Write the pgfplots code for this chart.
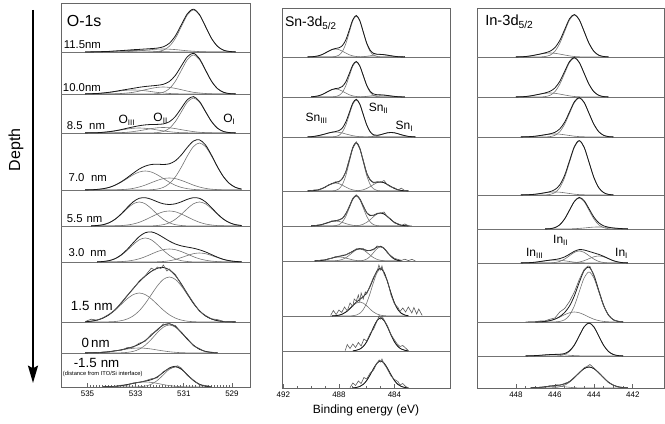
\documentclass[border=0pt]{standalone}
\usepackage{fontspec}
\setmainfont{Liberation Sans}
\usepackage{pgfplots}
\pgfplotsset{compat=1.18}
\usepackage{pgfplotstable}
\usetikzlibrary{arrows.meta}

\pgfplotsset{
  panel/.style={
    scale only axis, anchor=south west, x dir=reverse,
    axis line style={draw=black!60, line width=0.6pt},
    ytick=\empty, xtick pos=bottom, tick align=inside,
    major tick length=3pt, minor tick length=1.6pt,
    tick style={black!60, line width=0.5pt},
    tick label style={font=\fontsize{6}{7}\selectfont},
    /pgf/number format/assume math mode=true,
    xticklabel style={yshift=0.5pt},
  },
  comp/.style={black!55, line width=0.45pt, smooth},
  env/.style={black!90, line width=0.6pt, smooth},
  dat/.style={black!65, line width=0.45pt},
  sepl/.style={black!55, line width=0.6pt},
}
\tikzset{
  lab/.style={anchor=base west, inner sep=0pt, font=\fontsize{8.5}{10}\selectfont},
  labb/.style={anchor=base west, inner sep=0pt, font=\fontsize{10}{12}\selectfont},
  pk/.style={anchor=base west, inner sep=0pt, font=\fontsize{9}{11}\selectfont},
}
\newcommand\strip[2]{%
  \addplot[comp] table[x=x,y expr=\thisrow{a}+#2]{#1};
  \addplot[comp] table[x=x,y expr=\thisrow{b}+#2]{#1};
  \addplot[comp] table[x=x,y expr=\thisrow{c}+#2]{#1};
  \addplot[env] table[x=x,y expr=\thisrow{e}+#2]{#1};}
\newcommand\data[2]{\addplot[dat] table[x=x,y expr=\thisrow{d}+#2]{#1};}

% ---------- O-1s ----------
\pgfplotstableread{
x a b c e
528.85 0.1 0 0 0.1
529.1 0.5 0 0 0.5
529.35 1.8 0 0 1.8
529.6 5.7 0 0 5.7
529.85 13.6 0.1 0 13.7
530.1 25.5 0.2 0 25.7
530.35 37.1 0.4 0 37.5
530.6 42.0 0.8 0 42.8
530.85 37.1 1.2 0 38.3
531.1 25.5 1.8 0 27.3
531.35 13.6 2.4 0.1 16.1
531.6 5.7 2.8 0.2 8.7
531.85 1.8 3.0 0.4 5.2
532.1 0.5 2.8 0.6 3.9
532.35 0.1 2.4 0.9 3.4
532.6 0 1.8 1.2 3.0
532.85 0 1.2 1.4 2.6
533.1 0 0.8 1.5 2.3
533.35 0 0.4 1.4 1.8
533.6 0 0.2 1.2 1.4
533.85 0 0.1 0.9 1.0
534.1 0 0 0.6 0.6
534.35 0 0 0.4 0.4
534.6 0 0 0.2 0.2
534.85 0 0 0.1 0.1
535.1 0 0 0 0
}\Oa
\pgfplotstableread{
x a b c e
528.85 0.1 0 0 0.1
529.1 0.4 0 0 0.4
529.35 1.7 0 0 1.7
529.6 5.3 0.1 0 5.4
529.85 12.7 0.2 0 12.9
530.1 23.7 0.5 0 24.1
530.35 34.4 1.0 0 35.4
530.6 39.0 1.7 0 40.7
530.85 34.4 2.9 0 37.3
531.1 23.7 4.3 0.1 28.1
531.35 12.7 5.6 0.3 18.6
531.6 5.3 6.6 0.5 12.5
531.85 1.7 7.0 1.0 9.7
532.1 0.4 6.6 1.6 8.7
532.35 0.1 5.6 2.4 8.1
532.6 0 4.3 3.2 7.5
532.85 0 2.9 3.8 6.7
533.1 0 1.7 4.0 5.7
533.35 0 1.0 3.8 4.7
533.6 0 0.5 3.2 3.7
533.85 0 0.2 2.4 2.6
534.1 0 0.1 1.6 1.7
534.35 0 0 1.0 1.0
534.6 0 0 0.5 0.5
534.85 0 0 0.3 0.3
535.1 0 0 0.1 0.1
}\Ob
\pgfplotstableread{
x a b c e
528.85 0.1 0 0 0.1
529.1 0.4 0 0 0.4
529.35 1.5 0 0 1.5
529.6 4.7 0.1 0 4.8
529.85 11.4 0.2 0 11.6
530.1 21.2 0.4 0 21.6
530.35 30.9 0.7 0 31.7
530.6 35.0 1.4 0.1 36.4
530.85 30.9 2.3 0.2 33.3
531.1 21.2 3.3 0.3 24.9
531.35 11.4 4.4 0.7 16.5
531.6 4.7 5.2 1.3 11.2
531.85 1.5 5.5 2.1 9.1
532.1 0.4 5.2 3.0 8.6
532.35 0.1 4.4 4.0 8.5
532.6 0 3.3 4.7 8.1
532.85 0 2.3 5.0 7.3
533.1 0 1.4 4.7 6.1
533.35 0 0.7 4.0 4.8
533.6 0 0.4 3.0 3.4
533.85 0 0.2 2.1 2.2
534.1 0 0.1 1.3 1.3
534.35 0 0 0.7 0.7
534.6 0 0 0.3 0.3
534.85 0 0 0.2 0.2
535.1 0 0 0.1 0.1
}\Oc
\pgfplotstableread{
x a b c e
528.6 0.9 0 0 0.9
528.85 2.6 0 0 2.6
529.1 6.4 0.1 0 6.4
529.35 13.1 0.1 0 13.2
529.6 22.9 0.4 0 23.2
529.85 34.1 0.8 0 34.9
530.1 43.4 1.6 0.1 45.1
530.35 47.0 3.0 0.2 50.2
530.6 43.4 4.9 0.6 48.9
530.85 34.1 7.3 1.3 42.7
531.1 22.9 9.6 2.6 35.1
531.35 13.1 11.4 4.7 29.2
531.6 6.4 12.0 7.8 26.2
531.85 2.6 11.4 11.5 25.5
532.1 0.9 9.6 15.2 25.8
532.35 0.3 7.3 18.0 25.5
532.6 0 4.9 19.0 23.9
532.85 0 3.0 18.0 21.0
533.1 0 1.6 15.2 16.8
533.35 0 0.8 11.5 12.3
533.6 0 0.4 7.8 8.2
533.85 0 0.1 4.7 4.9
534.1 0 0.1 2.6 2.6
534.35 0 0 1.3 1.3
534.6 0 0 0.6 0.6
534.85 0 0 0.2 0.2
535.1 0 0 0.1 0.1
}\Od
\pgfplotstableread{
x a b c e
528.6 0.5 0 0 0.5
528.85 1.3 0 0 1.3
529.1 3.2 0.1 0 3.3
529.35 6.7 0.2 0 6.8
529.6 11.7 0.4 0 12.1
529.85 17.4 1.0 0 18.4
530.1 22.2 2.0 0 24.2
530.35 24.0 3.7 0 27.7
530.6 22.2 6.2 0 28.3
530.85 17.4 9.1 0.1 26.7
531.1 11.7 12.0 0.5 24.2
531.35 6.7 14.2 1.3 22.2
531.6 3.2 15.0 3.2 21.5
531.85 1.3 14.2 6.7 22.2
532.1 0.5 12.0 11.7 24.2
532.35 0.1 9.1 17.4 26.7
532.6 0 6.2 22.2 28.3
532.85 0 3.7 24.0 27.7
533.1 0 2.0 22.2 24.2
533.35 0 1.0 17.4 18.4
533.6 0 0.4 11.7 12.1
533.85 0 0.2 6.7 6.8
534.1 0 0.1 3.2 3.3
534.35 0 0 1.3 1.3
534.6 0 0 0.5 0.5
534.85 0 0 0.1 0.1
}\Oe
\pgfplotstableread{
x a b c e
528.6 0.2 0 0 0.2
528.85 0.5 0 0 0.5
529.1 1.2 0.05 0 1.3
529.35 2.5 0.1 0 2.6
529.6 4.4 0.4 0 4.8
529.85 6.5 0.9 0 7.4
530.1 8.3 1.8 0 10.1
530.35 9.0 3.2 0 12.2
530.6 8.3 5.3 0.1 13.8
530.85 6.5 7.9 0.5 14.9
531.1 4.4 10.4 1.3 16.1
531.35 2.5 12.3 3.2 18.0
531.6 1.2 13.0 6.7 20.9
531.85 0.5 12.3 11.7 24.5
532.1 0.2 10.4 17.4 28.0
532.35 0.05 7.9 22.2 30.1
532.6 0 5.3 24.0 29.3
532.85 0 3.2 22.2 25.4
533.1 0 1.8 17.4 19.2
533.35 0 0.9 11.7 12.6
533.6 0 0.4 6.7 7.1
533.85 0 0.1 3.2 3.4
534.1 0 0.05 1.3 1.4
534.35 0 0 0.5 0.5
534.6 0 0 0.1 0.1
}\Of
\pgfplotstableread{
x a b c e
528.85 0 0.05 0 0.1
529.1 0 0.2 0 0.2
529.35 0 0.5 0 0.5
529.6 0 1.3 0 1.3
529.85 0 3.0 0 3.0
530.1 0 6.1 0.03 6.1
530.35 0 11.2 0.1 11.3
530.6 0 18.5 0.3 18.8
530.85 0 27.3 0.8 28.2
531.1 0 36.0 1.9 38.0
531.35 0 42.6 3.9 46.5
531.6 0 45.0 7.2 52.2
531.85 0 42.6 11.9 54.5
532.1 0 36.0 17.6 53.7
532.35 0 27.3 23.2 50.6
532.6 0 18.5 27.4 45.9
532.85 0 11.2 29.0 40.2
533.1 0 6.1 27.4 33.5
533.35 0 3.0 23.2 26.2
533.6 0 1.3 17.6 18.9
533.85 0 0.5 11.9 12.4
534.1 0 0.2 7.2 7.4
534.35 0 0.05 3.9 4.0
534.6 0 0 1.9 1.9
534.85 0 0 0.8 0.8
535.1 0 0 0.3 0.3
}\Og
\pgfplotstableread{
x d
528.85 0.1
529.1 0.3
529.35 0.6
529.6 2.4
529.85 3.2
530.1 6.6
530.35 10.8
530.6 19.4
530.85 28.4
531.1 37.2
531.35 47.5
531.5 50.5
531.6 53.0
531.7 51.0
531.85 57.0
531.95 53.5
532.1 55.0
532.2 52.0
532.35 53.8
532.6 46.4
532.85 41.0
533.1 33.0
533.35 26.6
533.6 19.4
533.85 12.0
534.1 7.8
534.35 4.3
534.6 1.8
534.85 2.8
535.1 0.4
}\Ogd
\pgfplotstableread{
x a b c e
529.6 0 0.2 0 0.2
529.85 0 0.6 0 0.6
530.1 0 1.6 0 1.6
530.35 0 3.8 0 3.8
530.6 0 7.8 0.1 7.8
530.85 0 13.6 0.15 13.8
531.1 0 20.3 0.3 20.7
531.35 0 25.8 0.7 26.5
531.6 0 28.0 1.25 29.3
531.85 0 25.8 2.1 27.9
532.1 0 20.3 3.0 23.4
532.35 0 13.6 4.0 17.7
532.6 0 7.8 4.7 12.5
532.85 0 3.8 5.0 8.8
533.1 0 1.6 4.7 6.3
533.35 0 0.6 4.0 4.6
533.6 0 0.2 3.0 3.2
533.85 0 0 2.1 2.1
534.1 0 0 1.25 1.3
534.35 0 0 0.7 0.7
534.6 0 0 0.3 0.3
534.85 0 0 0.15 0.2
535.1 0 0 0.06 0.1
}\Oh
\pgfplotstableread{
x d
529.6 0.2
529.85 0.8
530.1 1.2
530.35 4.4
530.6 7.2
530.85 14.5
531.1 20.0
531.35 27.5
531.5 28.2
531.6 29.5
531.75 28.0
531.85 29.0
532.1 22.6
532.35 18.8
532.6 11.8
532.85 9.8
533.1 5.8
533.35 5.4
533.6 2.6
533.85 2.6
534.1 1.0
534.35 1.0
534.6 0.2
}\Ohd
\pgfplotstableread{
x a b c e
529.85 0 0.2 0 0.2
530.1 0 0.9 0 0.9
530.35 0 2.7 0 2.7
530.6 0 6.5 0 6.5
530.85 0 12.1 0.1 12.2
531.1 0 17.7 0.3 17.9
531.35 0 20.0 0.7 20.7
531.6 0 17.7 1.4 19.0
531.85 0 12.1 2.4 14.6
532.1 0 6.5 3.6 10.1
532.35 0 2.7 4.6 7.3
532.6 0 0.9 5.0 5.9
532.85 0 0.2 4.6 4.8
533.1 0 0 3.6 3.7
533.35 0 0 2.4 2.4
533.6 0 0 1.4 1.4
533.85 0 0 0.7 0.7
534.1 0 0 0.3 0.3
534.35 0 0 0.1 0.1
}\Oi
\pgfplotstableread{
x d
529.85 0.3
530.1 1.5
530.35 2.2
530.6 7.0
530.85 11.4
531.1 18.8
531.25 21.2
531.35 20.4
531.6 18.4
531.85 15.4
532.1 9.2
532.35 8.2
532.6 6.2
532.85 4.6
533.1 4.0
533.35 1.8
533.6 1.8
533.85 0.5
534.1 0.3
}\Oid

% ---------- Sn-3d ----------
\pgfplotstableread{
x a b c e
483.25 0.05 0 0 0.1
483.5 0.1 0 0 0.1
483.75 0.3 0 0 0.3
484 0.7 0 0 0.7
484.25 1.2 0 0 1.2
484.5 1.8 0 0 1.8
484.75 2.3 0 0 2.3
485 2.5 0.1 0 2.6
485.25 2.3 0.5 0 2.8
485.5 1.8 1.8 0 3.6
485.75 1.2 5.6 0 6.8
486 0.7 13.3 0 14.0
486.25 0.3 24.9 0.05 25.3
486.5 0.1 36.2 0.2 36.5
486.75 0.05 41.0 0.5 41.5
487 0 36.2 1.1 37.3
487.25 0 24.9 2.2 27.1
487.5 0 13.3 3.9 17.2
487.75 0 5.6 5.8 11.4
488 0 1.8 7.4 9.2
488.25 0 0.5 8.0 8.5
488.5 0 0.1 7.4 7.5
488.75 0 0 5.8 5.8
489 0 0 3.9 3.9
489.25 0 0 2.2 2.2
489.5 0 0 1.1 1.1
489.75 0 0 0.5 0.5
490 0 0 0.2 0.2
490.25 0 0 0.05 0.1
}\Sa
\pgfplotstableread{
x a b c e
483.25 0 0 0 0
483.5 0.1 0 0 0.1
483.75 0.3 0 0 0.3
484 0.6 0 0 0.6
484.25 1.0 0 0 1.0
484.5 1.5 0 0 1.5
484.75 1.9 0 0 1.9
485 2.0 0.1 0 2.1
485.25 1.9 0.4 0 2.2
485.5 1.5 1.5 0 3.0
485.75 1.0 4.7 0 5.7
486 0.6 11.4 0 11.9
486.25 0.3 21.2 0.05 21.6
486.5 0.1 30.9 0.2 31.2
486.75 0 35.0 0.5 35.5
487 0 30.9 1.1 32.0
487.25 0 21.2 2.2 23.5
487.5 0 11.4 3.9 15.3
487.75 0 4.7 5.8 10.6
488 0 1.5 7.4 8.9
488.25 0 0.4 8.0 8.4
488.5 0 0.1 7.4 7.5
488.75 0 0 5.8 5.8
489 0 0 3.9 3.9
489.25 0 0 2.2 2.2
489.5 0 0 1.1 1.1
489.75 0 0 0.5 0.5
490 0 0 0.2 0.2
}\Sb
\pgfplotstableread{
x a b c e
482.5 0.1 0 0 0.1
482.75 0.3 0 0 0.3
483 0.6 0 0 0.6
483.25 1.3 0 0 1.3
483.5 2.2 0 0 2.2
483.75 3.3 0 0 3.3
484 4.2 0 0 4.2
484.25 4.5 0 0 4.5
484.5 4.2 0 0 4.2
484.75 3.3 0 0 3.3
485 2.2 0.1 0 2.3
485.25 1.3 0.4 0 1.7
485.5 0.6 1.6 0 2.2
485.75 0.3 5.0 0 5.3
486 0.1 12.0 0.1 12.2
486.25 0 22.4 0.2 22.6
486.5 0 32.7 0.3 33.0
486.75 0 37.0 0.7 37.7
487 0 32.7 1.3 33.9
487.25 0 22.4 2.1 24.5
487.5 0 12.0 3.0 15.1
487.75 0 5.0 4.0 9.0
488 0 1.6 4.7 6.4
488.25 0 0.4 5.0 5.4
488.5 0 0.1 4.7 4.8
488.75 0 0 4.0 4.0
489 0 0 3.0 3.0
489.25 0 0 2.1 2.1
489.5 0 0 1.3 1.3
489.75 0 0 0.7 0.7
490 0 0 0.3 0.3
490.25 0 0 0.15 0.2
}\Sc
\pgfplotstableread{
x a b c e
483 0.05 0 0 0.1
483.25 0.2 0 0 0.2
483.5 0.5 0 0 0.5
483.75 1.2 0 0 1.2
484 2.5 0 0 2.5
484.25 4.4 0 0 4.4
484.5 6.5 0 0 6.5
484.75 8.3 0 0 8.3
485 9.0 0.1 0 9.1
485.25 8.3 0.5 0 8.8
485.5 6.5 2.1 0 8.6
485.75 4.4 6.5 0 10.9
486 2.5 15.6 0 18.1
486.25 1.2 29.1 0.05 30.4
486.5 0.5 42.4 0.2 43.0
486.75 0.2 48.0 0.5 48.6
487 0.05 42.4 1.1 43.5
487.25 0 29.1 2.2 31.3
487.5 0 15.6 3.9 19.5
487.75 0 6.5 5.8 12.3
488 0 2.1 7.4 9.5
488.25 0 0.5 8.0 8.5
488.5 0 0.1 7.4 7.5
488.75 0 0 5.8 5.8
489 0 0 3.9 3.9
489.25 0 0 2.2 2.2
489.5 0 0 1.1 1.1
489.75 0 0 0.5 0.5
490 0 0 0.2 0.2
490.25 0 0 0.05 0.1
}\Sd
\pgfplotstableread{
x d
483 0
483.25 0.3
483.5 2.8
483.75 1.0
484 3.2
484.25 4.0
484.5 6.0
484.75 10.5
485 8.6
485.25 9.4
485.5 8.0
485.75 11.5
486 17.6
486.25 31.0
486.5 42.4
486.75 49.2
487 43.0
487.25 31.8
487.5 19.0
487.75 12.8
488 9.0
488.25 9.2
488.5 7.0
488.75 6.2
489 3.4
489.25 2.6
489.5 0.8
489.75 1.2
490 0.2
}\Sdd
\pgfplotstableread{
x a b c e
483 0.1 0 0 0.1
483.25 0.3 0 0 0.3
483.5 0.7 0 0 0.7
483.75 1.8 0 0 1.8
484 3.6 0 0 3.6
484.25 6.3 0 0 6.3
484.5 9.4 0 0 9.4
484.75 12.0 0 0 12.0
485 13.0 0.1 0 13.1
485.25 12.0 0.3 0 12.3
485.5 9.4 1.3 0 10.8
485.75 6.3 4.1 0 10.4
486 3.6 9.7 0 13.4
486.25 1.8 18.2 0.05 20.0
486.5 0.7 26.5 0.1 27.3
486.75 0.3 30.0 0.3 30.5
487 0.1 26.5 0.7 27.2
487.25 0 18.2 1.4 19.6
487.5 0 9.7 2.4 12.2
487.75 0 4.1 3.6 7.7
488 0 1.3 4.6 5.9
488.25 0 0.3 5.0 5.3
488.5 0 0.1 4.6 4.7
488.75 0 0 3.6 3.6
489 0 0 2.4 2.4
489.25 0 0 1.4 1.4
489.5 0 0 0.7 0.7
489.75 0 0 0.3 0.3
490 0 0 0.1 0.1
}\Se
\pgfplotstableread{
x d
482.75 0.1
483 0.3
483.25 2.0
483.5 0.6
483.75 2.4
484 3.0
484.25 6.8
484.5 9.0
484.75 14.0
485 12.6
485.25 12.8
485.5 10.2
485.75 11.0
486 13.0
486.25 20.6
486.5 27.0
486.75 31.2
487 27.8
487.25 19.0
487.5 12.6
487.75 7.3
488 6.4
488.25 4.8
488.5 5.2
488.75 3.2
489 2.8
489.25 1.0
489.5 1.1
489.75 0.2
}\Sed
\pgfplotstableread{
x a b c e
483.5 0.2 0 0 0.2
483.75 0.6 0 0 0.6
484 1.9 0 0 1.9
484.25 4.6 0 0 4.6
484.5 8.5 0.1 0 8.6
484.75 12.4 0.2 0 12.6
485 14.0 0.7 0 14.7
485.25 12.4 1.6 0 14.0
485.5 8.5 3.3 0 11.8
485.75 4.6 5.8 0 10.4
486 1.9 8.7 0 10.6
486.25 0.6 11.1 0.1 11.8
486.5 0.2 12.0 0.2 12.4
486.75 0 11.1 0.5 11.7
487 0 8.7 1.1 9.8
487.25 0 5.8 2.0 7.8
487.5 0 3.3 2.9 6.2
487.75 0 1.6 3.7 5.3
488 0 0.7 4.0 4.7
488.25 0 0.2 3.7 3.9
488.5 0 0.1 2.9 3.0
488.75 0 0 2.0 2.0
489 0 0 1.1 1.1
489.25 0 0 0.5 0.5
489.5 0 0 0.2 0.2
489.75 0 0 0.1 0.1
}\Sf
\pgfplotstableread{
x d
482.5 0.2
482.75 1.6
483 0.4
483.25 1.8
483.5 0.6
483.75 1.6
484 2.6
484.25 5.2
484.5 8.0
484.75 13.0
485 14.2
485.25 15.0
485.5 11.2
485.75 10.8
486 10.0
486.25 12.4
486.5 12.0
486.75 12.2
487 9.2
487.25 8.2
487.5 6.0
487.75 5.8
488 4.2
488.25 4.4
488.5 2.6
488.75 2.4
489 0.8
489.25 1.2
489.5 0.2
}\Sfd
\pgfplotstableread{
x a b c e
483 0.3 0 0 0.3
483.25 0.9 0 0 0.9
483.5 2.6 0 0 2.6
483.75 6.4 0 0 6.4
484 13.1 0 0 13.1
484.25 22.9 0 0 22.9
484.5 34.1 0.1 0 34.2
484.75 43.4 0.3 0 43.7
485 47.0 0.8 0 47.8
485.25 43.4 1.9 0 45.3
485.5 34.1 3.9 0 38.0
485.75 22.9 6.8 0 29.7
486 13.1 10.2 0 23.2
486.25 6.4 12.9 0 19.3
486.5 2.6 14.0 0 16.6
486.75 0.9 12.9 0 13.9
487 0.3 10.2 0 10.4
487.25 0 6.8 0 6.8
487.5 0 3.9 0 3.9
487.75 0 1.9 0 1.9
488 0 0.8 0 0.8
488.25 0 0.3 0 0.3
488.5 0 0.1 0 0.1
}\Sg
\pgfplotstableread{
x d
482.0 0.5
482.25 7
482.4 2
482.6 8.5
482.75 3
483.0 9
483.2 4
483.4 8
483.6 4.5
483.75 8.5
484.0 12
484.25 21
484.5 35
484.75 42
484.9 50
485.0 46
485.12 51
485.25 44.5
485.5 39
485.75 30.5
486.0 22
486.1 24
486.25 17
486.4 23
486.5 14.5
486.6 21
486.75 15
486.9 17
487.0 9.5
487.2 13
487.4 5
487.6 9
487.8 3.5
488.0 6
488.2 1.5
488.4 5.5
488.6 0.5
}\Sgd
\pgfplotstableread{
x a b c e
483 0.2 0 0 0.2
483.25 0.7 0 0 0.7
483.5 1.9 0 0 1.9
483.75 4.5 0 0 4.5
484 9.2 0 0 9.2
484.25 16.1 0 0 16.1
484.5 24.0 0 0 24.0
484.75 30.5 0 0 30.5
485 33.0 0 0 33.0
485.25 30.5 0 0 30.5
485.5 24.0 0 0 24.0
485.75 16.1 0 0 16.1
486 9.2 0 0 9.2
486.25 4.5 0 0 4.5
486.5 1.9 0 0 1.9
486.75 0.7 0 0 0.7
487 0.2 0 0 0.2
}\Sh
\pgfplotstableread{
x d
483.0 0.3
483.2 3
483.4 5.5
483.6 4.5
483.8 7
484.0 11
484.25 16.5
484.5 25
484.75 31
484.9 35
485.0 32
485.1 35.5
485.25 30
485.5 22
485.75 17.5
486.0 10
486.2 12
486.4 5
486.6 8.5
486.8 3.5
487.0 7
487.2 2.5
487.4 6.5
487.55 0.3
}\Shd
\pgfplotstableread{
x a b c e
483 0.2 0 0 0.2
483.25 0.5 0 0 0.5
483.5 1.5 0 0 1.5
483.75 3.6 0 0 3.6
484 7.5 0 0 7.5
484.25 13.2 0 0 13.2
484.5 19.6 0 0 19.6
484.75 24.9 0 0 24.9
485 27.0 0 0 27.0
485.25 24.9 0 0 24.9
485.5 19.6 0 0 19.6
485.75 13.2 0 0 13.2
486 7.5 0 0 7.5
486.25 3.6 0 0 3.6
486.5 1.5 0 0 1.5
486.75 0.5 0 0 0.5
487 0.2 0 0 0.2
}\Si
\pgfplotstableread{
x d
483.0 0.2
483.2 1.5
483.4 4.5
483.6 3
483.75 6.5
484.0 8.5
484.25 12
484.4 16
484.6 21
484.75 24
484.9 29
485.0 26
485.1 28
485.3 24
485.5 18
485.75 15
486.0 9
486.2 10.5
486.4 4.5
486.6 7
486.8 2.5
487.0 5
487.2 0.3
}\Sid

% ---------- In-3d ----------
\pgfplotstableread{
x a b c e
443.25 0 0.1 0 0.1
443.5 0 0.5 0 0.5
443.75 0 1.8 0 1.8
444 0 5.7 0 5.7
444.25 0 13.6 0 13.7
444.5 0 25.5 0.1 25.6
444.75 0 37.1 0.2 37.3
445 0 42.0 0.5 42.5
445.25 0 37.1 1.1 38.2
445.5 0 25.5 2.0 27.4
445.75 0 13.6 2.9 16.5
446 0 5.7 3.7 9.4
446.25 0 1.8 4.0 5.8
446.5 0 0.5 3.7 4.2
446.75 0 0.1 2.9 3.0
447 0 0 2.0 2.0
447.25 0 0 1.1 1.1
447.5 0 0 0.5 0.5
447.75 0 0 0.2 0.2
448 0 0 0.1 0.1
}\Ia
\pgfplotstableread{
x a b c e
443.25 0 0.1 0 0.1
443.5 0 0.4 0 0.4
443.75 0 1.7 0 1.7
444 0 5.3 0 5.3
444.25 0 12.7 0 12.7
444.5 0 23.7 0.1 23.7
444.75 0 34.4 0.2 34.6
445 0 39.0 0.5 39.5
445.25 0 34.4 1.1 35.5
445.5 0 23.7 2.0 25.6
445.75 0 12.7 2.9 15.6
446 0 5.3 3.7 9.0
446.25 0 1.7 4.0 5.7
446.5 0 0.4 3.7 4.1
446.75 0 0.1 2.9 3.0
447 0 0 2.0 2.0
447.25 0 0 1.1 1.1
447.5 0 0 0.5 0.5
447.75 0 0 0.2 0.2
448 0 0 0.1 0.1
}\Ib
\pgfplotstableread{
x a b c e
443 0 0.1 0 0.1
443.25 0 0.4 0 0.4
443.5 0 1.7 0 1.7
443.75 0 5.3 0 5.3
444 0 12.7 0 12.7
444.25 0 23.7 0.1 23.7
444.5 0 34.4 0.2 34.6
444.75 0 39.0 0.4 39.4
445 0 34.4 0.8 35.3
445.25 0 23.7 1.5 25.1
445.5 0 12.7 2.2 14.8
445.75 0 5.3 2.8 8.1
446 0 1.7 3.0 4.7
446.25 0 0.4 2.8 3.2
446.5 0 0.1 2.2 2.3
446.75 0 0 1.5 1.5
447 0 0 0.8 0.8
447.25 0 0 0.4 0.4
447.5 0 0 0.2 0.2
447.75 0 0 0.1 0.1
}\Ic
\pgfplotstableread{
x a b c e
443 0 0.1 0 0.1
443.25 0 0.6 0 0.6
443.5 0 2.4 0 2.4
443.75 0 7.3 0 7.3
444 0 17.5 0 17.6
444.25 0 32.8 0.1 32.8
444.5 0 47.7 0.2 47.8
444.75 0 54.0 0.4 54.4
445 0 47.7 0.8 48.5
445.25 0 32.8 1.5 34.2
445.5 0 17.5 2.2 19.7
445.75 0 7.3 2.8 10.1
446 0 2.4 3.0 5.4
446.25 0 0.6 2.8 3.4
446.5 0 0.1 2.2 2.3
446.75 0 0 1.5 1.5
447 0 0 0.8 0.8
447.25 0 0 0.4 0.4
447.5 0 0 0.2 0.2
447.75 0 0 0.1 0.1
}\Id
\pgfplotstableread{
x a b c e
442.25 0.1 0 0 0.1
442.5 0.3 0 0 0.3
442.75 0.6 0 0 0.6
443 1.0 0.1 0 1.0
443.25 1.5 0.3 0 1.8
443.5 1.9 1.4 0 3.2
443.75 2.0 4.2 0 6.2
444 1.9 10.1 0 11.9
444.25 1.5 18.8 0 20.3
444.5 1.0 27.4 0 28.3
444.75 0.6 31.0 0 31.6
445 0.3 27.4 0 27.6
445.25 0.1 18.8 0 18.9
445.5 0 10.1 0 10.1
445.75 0 4.2 0 4.2
446 0 1.4 0 1.4
446.25 0 0.3 0 0.3
446.5 0 0.1 0 0.1
}\Ie
\pgfplotstableread{
x a b c e
442.25 0.1 0 0 0.1
442.5 0.3 0 0 0.3
442.75 1.0 0 0 1.0
443 2.3 0 0 2.3
443.25 4.3 0.1 0 4.4
443.5 6.2 0.5 0 6.7
443.75 7.0 1.6 0 8.6
444 6.2 3.9 0 10.1
444.25 4.3 7.3 0.1 11.6
444.5 2.3 10.6 0.2 13.0
444.75 1.0 12.0 0.4 13.4
445 0.3 10.6 0.8 11.7
445.25 0.1 7.3 1.5 8.8
445.5 0 3.9 2.2 6.1
445.75 0 1.6 2.8 4.4
446 0 0.5 3.0 3.5
446.25 0 0.1 2.8 2.9
446.5 0 0 2.2 2.2
446.75 0 0 1.5 1.5
447 0 0 0.8 0.8
447.25 0 0 0.4 0.4
447.5 0 0 0.2 0.2
447.75 0 0 0.1 0.1
}\If
\pgfplotstableread{
x a b c e
442.5 0 0.1 0 0.1
442.75 0 0.6 0 0.6
443 0 2.2 0.1 2.3
443.25 0 6.8 0.2 7.0
443.5 0 16.2 0.6 16.8
443.75 0 30.3 1.4 31.7
444 0 44.1 2.8 46.9
444.25 0 50.0 4.9 54.9
444.5 0 44.1 7.3 51.4
444.75 0 30.3 9.2 39.6
445 0 16.2 10.0 26.2
445.25 0 6.8 9.2 16.0
445.5 0 2.2 7.3 9.5
445.75 0 0.6 4.9 5.4
446 0 0.1 2.8 2.9
446.25 0 0 1.4 1.4
446.5 0 0 0.6 0.6
446.75 0 0 0.2 0.2
447 0 0 0.1 0.1
}\Ig
\pgfplotstableread{
x d
442.5 0.1
442.75 0.8
443 2.0
443.25 6.6
443.5 16.0
443.75 30.8
444 46.0
444.2 55.5
444.3 56.0
444.5 52.5
444.75 42.5
445 30.0
445.25 20.5
445.5 13.5
445.75 10.0
446 4.0
446.25 2.8
446.5 1.2
446.75 1.0
447 0.3
447.25 0.4
447.5 0
}\Igd
\pgfplotstableread{
x a b c e
442.5 0 0.1 0 0.1
442.75 0 0.4 0 0.4
443 0 1.5 0 1.5
443.25 0 4.5 0 4.5
443.5 0 10.7 0 10.7
443.75 0 20.0 0 20.0
444 0 29.1 0 29.1
444.25 0 33.0 0 33.0
444.5 0 29.1 0.1 29.2
444.75 0 20.0 0.2 20.2
445 0 10.7 0.4 11.1
445.25 0 4.5 0.7 5.2
445.5 0 1.5 1.1 2.5
445.75 0 0.4 1.4 1.8
446 0 0.1 1.5 1.6
446.25 0 0 1.4 1.4
446.5 0 0 1.1 1.1
446.75 0 0 0.7 0.7
447 0 0 0.4 0.4
447.25 0 0 0.2 0.2
447.5 0 0 0.1 0.1
}\Ih
\pgfplotstableread{
x a b c e
442.25 0 0.1 0 0.1
442.5 0 0.4 0 0.4
442.75 0 1.2 0 1.2
443 0 2.8 0 2.8
443.25 0 5.8 0 5.8
443.5 0 10.2 0 10.2
443.75 0 15.3 0 15.3
444 0 19.4 0 19.4
444.25 0 21.0 0 21.0
444.5 0 19.4 0 19.4
444.75 0 15.3 0.1 15.3
445 0 10.2 0.3 10.5
445.25 0 5.8 0.7 6.5
445.5 0 2.8 1.2 4.1
445.75 0 1.2 1.8 3.0
446 0 0.4 2.0 2.4
446.25 0 0.1 1.8 1.9
446.5 0 0 1.2 1.2
446.75 0 0 0.7 0.7
447 0 0 0.3 0.3
447.25 0 0 0.1 0.1
}\Ii
\pgfplotstableread{
x d
442.25 0.1
442.5 0.6
442.75 1.0
443 3.0
443.25 5.4
443.5 10.6
443.75 15.0
444 20.0
444.2 23.5
444.35 21.5
444.5 20.2
444.75 15.0
445 10.8
445.25 6.2
445.5 4.6
445.75 2.6
445.9 3.2
446.05 1.6
446.25 2.2
446.5 1.0
446.75 0.8
447 0.2
}\Iid

\begin{document}
\begin{tikzpicture}
\path[use as bounding box] (0,0) rectangle (498.75pt,318pt);

% ---------------- O-1s panel ----------------
\begin{axis}[panel, at={(45.75pt,27.75pt)}, width=141.75pt, height=288pt,
  xmin=528.25, xmax=536.1, ymin=37, ymax=421,
  xtick={529,531,533,535}, minor tick num=15]
  \addplot[sepl] coordinates {(528.25,372) (536.1,372)};
  \addplot[sepl] coordinates {(528.25,330) (536.1,330)};
  \addplot[sepl] coordinates {(528.25,291) (536.1,291)};
  \addplot[sepl] coordinates {(528.25,234) (536.1,234)};
  \addplot[sepl] coordinates {(528.25,198) (536.1,198)};
  \addplot[sepl] coordinates {(528.25,162) (536.1,162)};
  \addplot[sepl] coordinates {(528.25,102) (536.1,102)};
  \addplot[sepl] coordinates {(528.25,71) (536.1,71)};
  \strip{\Oa}{372}
  \strip{\Ob}{330}
  \strip{\Oc}{291}
  \strip{\Od}{234}
  \strip{\Oe}{198}
  \strip{\Of}{162}
  \strip{\Og}{102}
  \data{\Ogd}{102}
  \strip{\Oh}{71}
  \data{\Ohd}{71}
  \strip{\Oi}{37}
  \data{\Oid}{37}
  \node[anchor=base west, inner sep=0pt, font=\fontsize{12}{14}\selectfont] at (axis cs:535.87,397) {O-1s};
  \node[lab] at (axis cs:535.99,375) {11.5nm};
  \node[lab] at (axis cs:536.03,332) {10.0nm};
  \node[lab] at (axis cs:535.87,294) {8.5\hspace{5pt}nm};
  \node[lab] at (axis cs:535.79,242) {7.0\hspace{5pt}nm};
  \node[lab] at (axis cs:535.87,201) {5.5\hspace{3pt}nm};
  \node[lab] at (axis cs:535.79,167) {3.0\hspace{4.5pt}nm};
  \node[labb] at (axis cs:535.7,113) {1.5\hspace{3.5pt}nm};
  \node[labb] at (axis cs:535.25,76) {0\hspace{1.5pt}nm};
  \node[labb] at (axis cs:535.58,56) {-1.5\hspace{3pt}nm};
  \node[anchor=base west, inner sep=0pt, font=\fontsize{4.3}{5}\selectfont] at (axis cs:536.03,48) {(distance from ITO/Si interface)};
  \node[pk] at (axis cs:533.72,300) {O$_{\mathrm{III}}$};
  \node[pk] at (axis cs:532.27,302) {O$_{\mathrm{II}}$};
  \node[pk] at (axis cs:529.37,301) {O$_{\mathrm{I}}$};
\end{axis}

% ---------------- Sn-3d panel ----------------
\begin{axis}[panel, at={(211.5pt,27pt)}, width=126pt, height=285pt,
  xmin=480, xmax=492.1, ymin=36, ymax=416,
  xtick={484,488,492}, minor tick num=3,
  xlabel={Binding energy (eV)},
  xlabel style={at={(axis description cs:0.5,0)}, anchor=base, yshift=-19.5pt,
    font=\fontsize{9}{11}\selectfont}]
  \addplot[sepl] coordinates {(480,367) (492.1,367)};
  \addplot[sepl] coordinates {(480,327) (492.1,327)};
  \addplot[sepl] coordinates {(480,287) (492.1,287)};
  \addplot[sepl] coordinates {(480,233) (492.1,233)};
  \addplot[sepl] coordinates {(480,198) (492.1,198)};
  \addplot[sepl] coordinates {(480,163) (492.1,163)};
  \addplot[sepl] coordinates {(480,108) (492.1,108)};
  \addplot[sepl] coordinates {(480,73) (492.1,73)};
  \strip{\Sa}{367}
  \strip{\Sb}{327}
  \strip{\Sc}{287}
  \strip{\Sd}{233}
  \data{\Sdd}{233}
  \strip{\Se}{198}
  \data{\Sed}{198}
  \strip{\Sf}{163}
  \data{\Sfd}{163}
  \strip{\Sg}{108}
  \data{\Sgd}{108}
  \strip{\Sh}{73}
  \data{\Shd}{73}
  \strip{\Si}{36}
  \data{\Sid}{36}
  \node[anchor=base west, inner sep=0pt, font=\fontsize{10.5}{12}\selectfont] at (axis cs:491.9,397) {Sn-3d\textsubscript{5/2}};
  \node[pk] at (axis cs:490.41,302) {Sn$_{\mathrm{III}}$};
  \node[pk] at (axis cs:485.87,312) {Sn$_{\mathrm{II}}$};
  \node[pk] at (axis cs:483.93,294) {Sn$_{\mathrm{I}}$};
\end{axis}

% ---------------- In-3d panel ----------------
\begin{axis}[panel, at={(357.75pt,27pt)}, width=140.25pt, height=285pt,
  xmin=440.4, xmax=450, ymin=36, ymax=416,
  xtick={442,444,446,448}, minor tick num=3]
  \addplot[sepl] coordinates {(440.4,367) (450,367)};
  \addplot[sepl] coordinates {(440.4,327) (450,327)};
  \addplot[sepl] coordinates {(440.4,287) (450,287)};
  \addplot[sepl] coordinates {(440.4,229) (450,229)};
  \addplot[sepl] coordinates {(440.4,195) (450,195)};
  \addplot[sepl] coordinates {(440.4,161) (450,161)};
  \addplot[sepl] coordinates {(440.4,102) (450,102)};
  \addplot[sepl] coordinates {(440.4,68) (450,68)};
  \strip{\Ia}{367}
  \strip{\Ib}{327}
  \strip{\Ic}{287}
  \strip{\Id}{229}
  \strip{\Ie}{195}
  \strip{\If}{161}
  \strip{\Ig}{102}
  \data{\Igd}{102}
  \strip{\Ih}{68}
  \strip{\Ii}{36}
  \data{\Iid}{36}
  \node[anchor=base west, inner sep=0pt, font=\fontsize{11}{13}\selectfont] at (axis cs:449.59,398) {In-3d\textsubscript{5/2}};
  \node[pk] at (axis cs:447.49,167) {In$_{\mathrm{III}}$};
  \node[pk] at (axis cs:446.10,180) {In$_{\mathrm{II}}$};
  \node[pk] at (axis cs:442.92,167) {In$_{\mathrm{I}}$};
\end{axis}

% ---------------- depth arrow ----------------
\draw[line width=1.5pt, -{Stealth[length=13pt,width=7.5pt,inset=2pt]}]
  (24.75pt,310.5pt) -- (24.75pt,30.75pt);
\node[rotate=90, font=\fontsize{12}{14}\selectfont] at (12pt,205.5pt) {Depth};
\end{tikzpicture}
\end{document}
